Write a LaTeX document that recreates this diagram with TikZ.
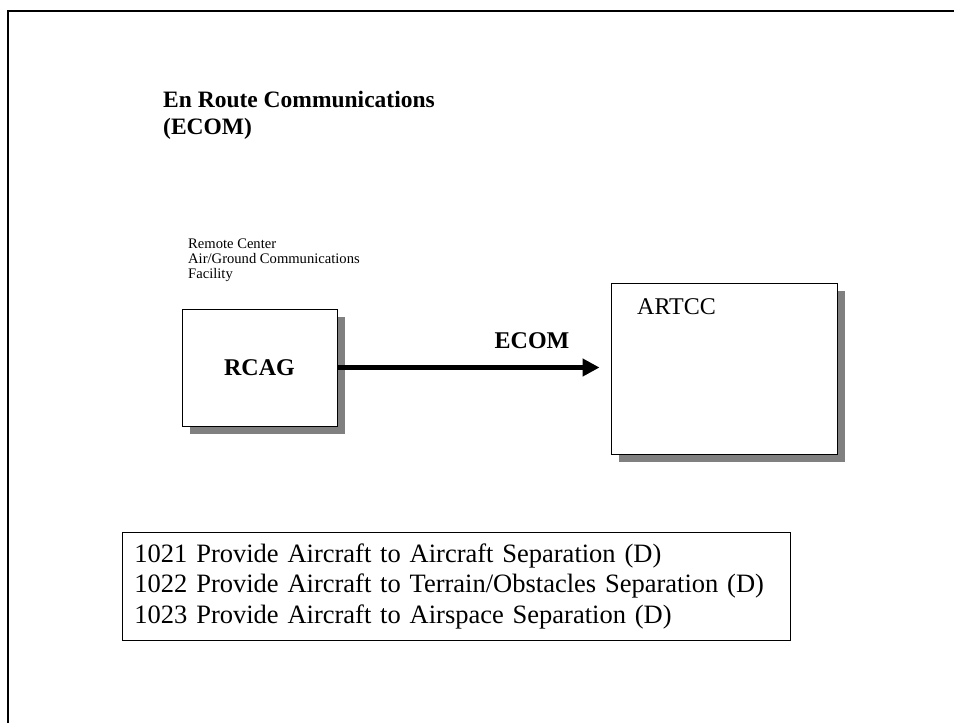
\documentclass[tikz,border=0pt]{standalone}
\usepackage{fontspec}
\setmainfont{Liberation Serif}
\usetikzlibrary{arrows.meta,shadows}
\definecolor{shadowgray}{RGB}{128,128,128}
\tikzset{
  framebox/.style={draw=black, line width=0.9pt, fill=white, inner sep=0pt,
    drop shadow={shadow xshift=8pt, shadow yshift=-8pt, fill=shadowgray, opacity=1}},
  plaintext/.style={inner sep=0pt, align=left, anchor=north west},
  flowarrow/.style={line width=5.5pt, -{Triangle[length=17pt,width=17pt]}}
}
\begin{document}
\begin{tikzpicture}[x=1pt,y=-1pt]
\useasboundingbox (0,0) rectangle (954,723);
% page frame
\coordinate (fr1) at (8,723);
\coordinate (fr2) at (8,11);
\coordinate (fr3) at (954,11);
\draw[line width=2.8pt] (fr1) -- (fr2) -- (fr3);
% title
\node[plaintext, font=\fontsize{23.5}{27}\selectfont\bfseries] (title) at (163,91) {En Route Communications\\(ECOM)};
% small label
\node[plaintext, font=\fontsize{14.6}{15}\selectfont] (rcaglbl) at (188,239) {Remote Center\\Air/Ground Communications\\Facility};
% boxes
\node[framebox, minimum width=155pt, minimum height=117pt, font=\fontsize{24}{27}\selectfont\bfseries] (rcag) at (259.5,367.5) {RCAG};
\node[framebox, minimum width=226pt, minimum height=171pt] (artcc) at (724,368.5) {};
\node[inner sep=0pt, anchor=base west, font=\fontsize{24}{27}\selectfont] (artcclbl) at (637,314) {ARTCC};
% arrow
\draw[flowarrow, shorten >=11pt] (rcag.east) -- (rcag.east -| artcc.west);
\node[inner sep=0pt, font=\fontsize{24}{27}\selectfont\bfseries] (ecom) at (532,341) {ECOM};
% function list
\node[draw=black, line width=0.9pt, anchor=north west, inner xsep=12pt, inner ysep=0pt,
  minimum width=668pt, minimum height=108pt, text width=644pt, align=left,
  font=\fontsize{26.5}{30.5}\selectfont] (funcs) at (122,532)
  {1021 Provide Aircraft to Aircraft Separation (D)\\
   1022 Provide Aircraft to Terrain/Obstacles Separation (D)\\
   1023 Provide Aircraft to Airspace Separation (D)};
\end{tikzpicture}
\end{document}
